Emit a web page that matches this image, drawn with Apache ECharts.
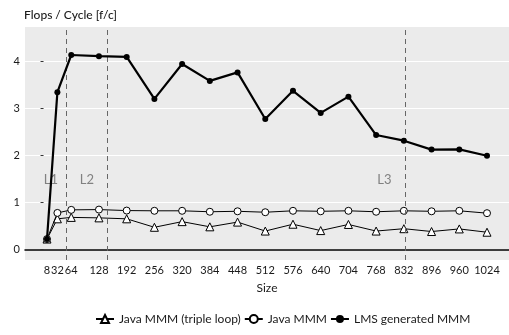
<!DOCTYPE html>
<html>
<head>
<meta charset="utf-8">
<script src="https://cdn.jsdelivr.net/npm/echarts@6/dist/echarts.min.js"></script>
<style>
  html, body { margin: 0; padding: 0; background: #fff; }
  #chart { width: 509px; height: 335px; }
</style>
</head>
<body>
<div id="chart"></div>
<script>
// Matrix sizes (x) and measured throughput in flops per cycle
const sizes = [8, 32, 64, 128, 192, 256, 320, 384, 448, 512, 576, 640, 704, 768, 832, 896, 960, 1024];
const tripleLoop = [0.22, 0.65, 0.68, 0.67, 0.65, 0.47, 0.59, 0.48, 0.58, 0.39, 0.535, 0.40, 0.53, 0.39, 0.44, 0.38, 0.435, 0.365];
const javaMMM = [0.22, 0.775, 0.84, 0.846, 0.825, 0.82, 0.82, 0.80, 0.81, 0.79, 0.82, 0.81, 0.82, 0.80, 0.82, 0.81, 0.82, 0.77];
const lmsMMM = [0.22, 3.34, 4.13, 4.105, 4.09, 3.197, 3.94, 3.58, 3.76, 2.77, 3.37, 2.90, 3.245, 2.43, 2.31, 2.12, 2.125, 1.99];

// Cache boundaries (matrix size where three float matrices fill the cache)
const cacheNames = ['L1', 'L2', 'L3'];
const cacheBounds = [52.3, 147.8, 836.1];
const cacheLabelX = [17, 100, 787];
const cacheLabelY = 1.48;

const yTicks = [0, 1, 2, 3, 4];
const seriesNames = ['Java MMM (triple loop)', 'Java MMM', 'LMS generated MMM'];

const FONT = 'Lato, "DejaVu Sans", sans-serif';
const zip = (xs, ys) => xs.map((x, i) => [x, ys[i]]);

const chart = echarts.init(document.getElementById('chart'), null, { renderer: 'canvas' });

chart.setOption({
  animation: false,
  textStyle: { fontFamily: FONT },
  title: {
    text: 'Flops / Cycle [f/c]',
    left: 19, top: 4,
    textStyle: { fontFamily: FONT, fontSize: 12, fontWeight: 500, color: '#1a1a1a' }
  },
  grid: {
    left: 25, right: -8, top: 27, bottom: 75,
    show: true, backgroundColor: '#ebebeb', borderWidth: 0
  },
  legend: {
    bottom: 5, left: 90,
    itemWidth: 18, itemHeight: 10, itemGap: 3,
    textStyle: { fontFamily: FONT, fontSize: 12, color: '#1a1a1a' },
    data: seriesNames
  },
  xAxis: {
    type: 'value',
    min: -42.8, max: 1074.8,
    name: 'Size', nameLocation: 'middle', nameGap: 22,
    nameTextStyle: { fontFamily: FONT, fontSize: 12, color: '#1a1a1a' },
    axisLine: { show: true, lineStyle: { color: '#000', width: 1.5 } },
    axisTick: { show: false, customValues: sizes },
    axisLabel: {
      customValues: sizes, formatter: v => String(v),
      fontSize: 11, color: '#1a1a1a', margin: 5, fontFamily: FONT, hideOverlap: false
    },
    splitLine: { show: false }
  },
  yAxis: {
    type: 'value',
    min: -0.225, max: 4.725,
    axisLine: { show: false },
    axisTick: { show: true, length: 3, customValues: yTicks, lineStyle: { color: '#333', width: 1 } },
    axisLabel: { customValues: yTicks, fontSize: 11, color: '#1a1a1a', margin: 5, fontFamily: FONT },
    splitLine: { show: true, lineStyle: { color: '#fff', width: 1.2 } }
  },
  series: [
    {
      type: 'line',
      name: 'cache',
      data: [],
      silent: true,
      z: 1,
      markLine: {
        silent: true,
        symbol: 'none',
        label: { show: false },
        lineStyle: { color: '#666', type: [5, 4], width: 1 },
        data: cacheBounds.map(v => ({ xAxis: v }))
      }
    },
    {
      type: 'scatter',
      name: 'cacheLabels',
      silent: true,
      symbolSize: 0,
      data: cacheLabelX.map((x, i) => ({ value: [x, cacheLabelY], name: cacheNames[i] })),
      label: {
        show: true, position: 'inside', formatter: p => p.name,
        fontFamily: FONT, fontSize: 13, color: '#666'
      }
    },
    {
      type: 'line',
      name: seriesNames[0],
      data: zip(sizes, tripleLoop),
      symbol: 'triangle', symbolSize: 8,
      itemStyle: { color: '#fff', borderColor: '#000', borderWidth: 1 },
      lineStyle: { color: '#000', width: 1 },
      z: 3
    },
    {
      type: 'line',
      name: seriesNames[1],
      data: zip(sizes, javaMMM),
      symbol: 'circle', symbolSize: 7,
      itemStyle: { color: '#fff', borderColor: '#000', borderWidth: 1 },
      lineStyle: { color: '#000', width: 1 },
      z: 4
    },
    {
      type: 'line',
      name: seriesNames[2],
      data: zip(sizes, lmsMMM),
      symbol: 'circle', symbolSize: 6,
      showAllSymbol: true,
      itemStyle: { color: '#000', borderColor: '#000', borderWidth: 0 },
      lineStyle: { color: '#000', width: 2.2 },
      z: 5
    }
  ]
});
</script>
</body>
</html>
